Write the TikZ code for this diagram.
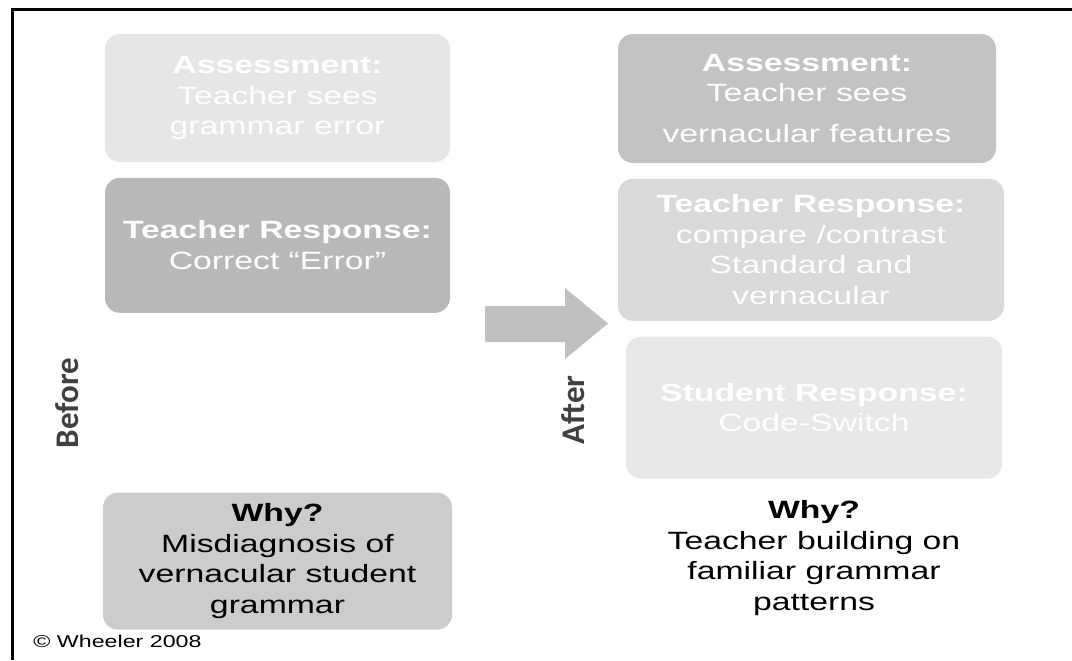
\documentclass[tikz,border=0pt]{standalone}
\usepackage{fontspec}
\setmainfont{Liberation Sans}[FakeStretch=1.35]
\newfontfamily\sidefont{Carlito}
\usepackage{tikz}
\usetikzlibrary{positioning}
\definecolor{palebox}{HTML}{E6E6E6}
\definecolor{darkbox}{HTML}{B8B8B8}
\definecolor{whybox}{HTML}{CCCCCC}
\definecolor{assessbox}{HTML}{C3C3C3}
\definecolor{responsebox}{HTML}{D9D9D9}
\definecolor{studentbox}{HTML}{E8E8E8}
\definecolor{arrowgray}{HTML}{C0C0C0}
\definecolor{sidegray}{HTML}{404040}
\tikzstyle{box} = [rectangle, rounded corners=7.5pt, align=center, text=white, inner sep=0pt, font={\fontsize{12.5pt}{15.25pt}\selectfont}]
\tikzstyle{side} = [rotate=90, text=sidegray, font={\sidefont\bfseries\fontsize{16.5pt}{18pt}\selectfont}]

\begin{document}
\begin{tikzpicture}[x=0.5pt, y=-0.5pt]
    \useasboundingbox (0,0) rectangle (1072,660);
    \draw [line width=1.5pt] (12.5,660) -- (12.5,9.5) -- (1072,9.5);

    % before column
    \node (beforeassess) [box, fill=palebox, minimum width=172.5pt, minimum height=64pt] at (277.5,98) {\textbf{Assessment:}\\Teacher sees\\grammar error};
    \node (beforeresponse) [box, fill=darkbox, minimum width=172.5pt, minimum height=67.5pt, below=7.5pt of beforeassess] {\textbf{Teacher Response:}\\Correct “Error”};
    \node (beforewhy) [box, fill=whybox, text=black, minimum width=174.5pt, minimum height=68.5pt, below=89.5pt of beforeresponse] {\textbf{Why?}\\Misdiagnosis of\\vernacular student\\grammar};

    % after column
    \node (afterassess) [box, fill=assessbox, minimum width=189pt, minimum height=64.5pt] at (807,98.5) {\textbf{Assessment:}\\Teacher sees\\[5pt]vernacular features};
    \node (afterresponse) [box, fill=responsebox, minimum width=193pt, minimum height=71pt, below=7.5pt of afterassess, xshift=2pt] {\textbf{Teacher Response:}\\compare /contrast\\Standard and\\vernacular};
    \node (afterstudent) [box, fill=studentbox, minimum width=188pt, minimum height=71pt, below=7.5pt of afterresponse, xshift=1.5pt] {\textbf{Student Response:}\\Code-Switch};
    \node (afterwhy) [box, text=black] at (814,558) {\textbf{Why?}\\Teacher building on\\familiar grammar\\patterns};

    \node (before) [side] at (67,403) {Before};
    \node (after) [side] at (573,410) {After};

    \fill [arrowgray] (485,306) -- (565,306) -- (565,288) -- (608,323.5) -- (565,359) -- (565,342) -- (485,342) -- cycle;

    \node (credit) [anchor=base west, inner sep=0pt, font={\fontsize{8.6pt}{10pt}\selectfont}] at (33,647) {© Wheeler 2008};
\end{tikzpicture}
\end{document}
